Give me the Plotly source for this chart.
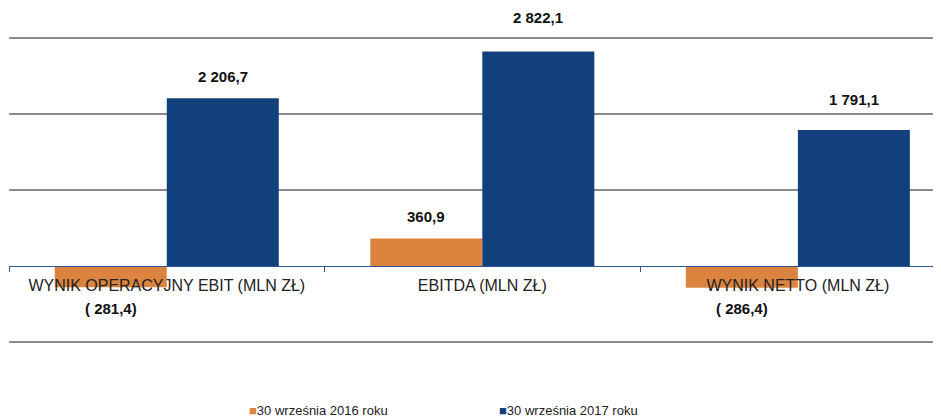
import plotly.graph_objects as go

categories = ["WYNIK OPERACYJNY EBIT (MLN ZŁ)", "EBITDA (MLN ZŁ)", "WYNIK NETTO (MLN ZŁ)"]
series_names = ["30 września 2016 roku", "30 września 2017 roku"]
values_2016 = [-281.4, 360.9, -286.4]
values_2017 = [2206.7, 2822.1, 1791.1]
labels_2016 = ["( 281,4)", "360,9", "( 286,4)"]
labels_2017 = ["2 206,7", "2 822,1", "1 791,1"]

ORANGE = "#DC843F"
BLUE = "#12407C"
FONT = "Liberation Sans, Arial, sans-serif"

fig = go.Figure()
fig.add_trace(go.Bar(x=categories, y=values_2016, name=series_names[0], showlegend=False,
                     marker=dict(color=ORANGE, line=dict(width=0))))
fig.add_trace(go.Bar(x=categories, y=values_2017, name=series_names[1], showlegend=False,
                     marker=dict(color=BLUE, line=dict(width=0))))

# data labels
half = 0.355 / 2
shifts_2016 = [-21, 22, -21]
shifts_2017 = [22, 34, 30]
for i in range(3):
    fig.add_annotation(x=i - half, y=values_2016[i], xref="x", yref="y",
                       text="<b>%s</b>" % labels_2016[i], showarrow=False,
                       yshift=shifts_2016[i], font=dict(size=15, color="#111111", family=FONT))
    fig.add_annotation(x=i + half, y=values_2017[i], xref="x", yref="y",
                       text="<b>%s</b>" % labels_2017[i], showarrow=False,
                       yshift=shifts_2017[i], font=dict(size=15, color="#111111", family=FONT))

# legend (drawn as text with coloured squares)
legend_x = [0.2532, 0.519]
for name, col, lx in zip(series_names, [ORANGE, BLUE], legend_x):
    fig.add_annotation(x=lx, y=-0.2097, xref="paper", yref="paper", xanchor="left", yanchor="middle",
                       showarrow=False,
                       text="<span style='color:%s'>■</span>%s" % (col, name),
                       font=dict(size=13, color="#222222", family=FONT))

fig.update_layout(
    width=941, height=420,
    margin=dict(l=1, r=0, t=27, b=83, autoexpand=False),
    paper_bgcolor="white", plot_bgcolor="white",
    barmode="group", bargap=0.29, bargroupgap=0,
    font=dict(family=FONT, size=16, color="#222222"),
    showlegend=False,
)
fig.update_xaxes(
    type="category", range=[-0.5, 2.479], automargin=False,
    anchor="free", position=1040 / 4080,
    showline=True, linecolor="#2E5597", linewidth=1,
    ticks="outside", tickson="boundaries", ticklen=5, tickcolor="#2E5597",
    ticklabelstandoff=5,
    showgrid=False, tickfont=dict(size=16, color="#222222", family=FONT),
)
fig.update_yaxes(
    range=[-1040, 3040], tickvals=[-1000, 1000, 2000, 3000], automargin=False,
    showticklabels=False, showgrid=True, gridcolor="#8a8a8a", gridwidth=1.5,
    zeroline=False, showline=False,
)

fig.write_html("out.html")
